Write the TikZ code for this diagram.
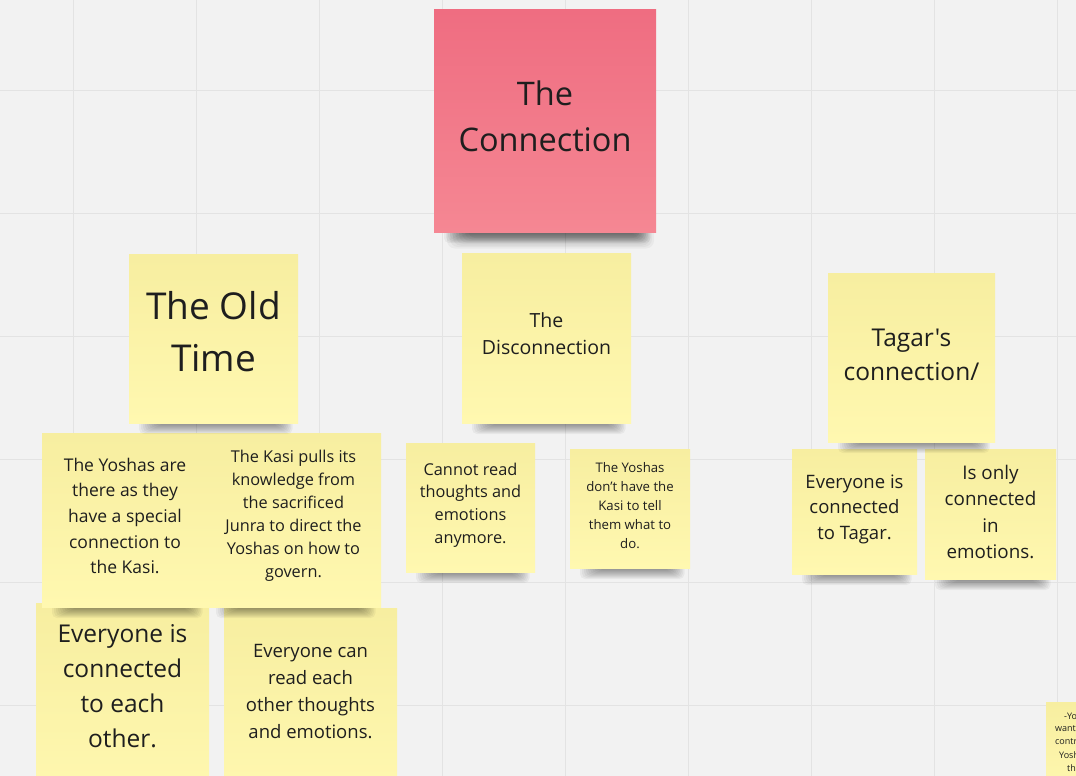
\documentclass[tikz,border=0pt]{standalone}
\usepackage{fontspec}
\newfontfamily\osans{Open Sans}
\definecolor{bgc}{HTML}{F2F2F2}
\definecolor{gridc}{HTML}{E3E3E3}
\definecolor{ytop}{HTML}{F7EEA0}
\definecolor{ybot}{HTML}{FFF8B0}
\definecolor{ptop}{HTML}{EF6D81}
\definecolor{pbot}{HTML}{F58793}
\definecolor{txt}{HTML}{1E1E1E}
\tikzset{
  notebox/.style={rectangle, inner sep=0pt, outer sep=0pt, top color=ytop, middle color=ybot, bottom color=ybot, draw=none},
  pinkbox/.style={top color=ptop, middle color=ptop!55!pbot, bottom color=pbot},
  notetext/.style={align=center, text=txt, inner sep=0pt},
  shadowpiece/.style={fill=black, opacity=0.045, rounded corners=5pt},
}
\newcommand\sticky[9]{%
  \foreach \k in {1,...,10}{\fill[shadowpiece] ({#2+8+2*\k},{#5-20}) rectangle ({#4-4-1.5*\k},{#5+12-\k});}
  \node[notebox, #9, minimum width={#4-#2}, minimum height={#5-#3}] (#1) at ({(#2+#4)/2},{(#3+#5)/2}) {};
  \node[notetext, font=#6] (#1-t) at ({(#2+#4)/2},#7) {#8};
}
\begin{document}
\begin{tikzpicture}[x=1pt,y=-1pt]
\useasboundingbox (0,0) rectangle (1076,776);
\clip (0,0) rectangle (1076,776);
\fill[bgc] (0,0) rectangle (1076,776);
\foreach \gx in {73,196,319,442,565,688,811,934,1057}{\draw[gridc, line width=1pt] (\gx,0) -- (\gx,776);}
\foreach \gy in {90,213,336,459,582,705}{\draw[gridc, line width=1pt] (0,\gy) -- (1076,\gy);}
% bottom row
\sticky{each}{36}{603}{209}{800}{\osans\fontsize{24.5}{35}\selectfont}{686}{Everyone is\\connected\\to each\\other.}{}
\sticky{read}{224}{608}{397}{800}{\osans\fontsize{18.5}{27}\selectfont}{692}{Everyone can\\read each\\other thoughts\\and emotions.}{}
\sticky{part}{1046}{702}{1120}{800}{\osans\fontsize{9}{13}\selectfont}{740}{}{}
\node[notetext, anchor=west, font=\osans\fontsize{9}{13}\selectfont] (p1) at (1064,716) {-Yo};
\node[notetext, anchor=west, font=\osans\fontsize{9}{13}\selectfont] (p2) at (1055,729) {want};
\node[notetext, anchor=west, font=\osans\fontsize{9}{13}\selectfont] (p3) at (1055,742) {contr};
\node[notetext, anchor=west, font=\osans\fontsize{9}{13}\selectfont] (p4) at (1059,755) {Yosh};
\node[notetext, anchor=west, font=\osans\fontsize{9}{13}\selectfont] (p5) at (1067,768) {th};
% middle row
\sticky{yosh}{42}{433}{208}{607}{\osans\fontsize{17.5}{25.7}\selectfont}{516}{The Yoshas are\\there as they\\have a special\\connection to\\the Kasi.}{}
\sticky{kasi}{206}{433}{381}{607}{\osans\fontsize{16.3}{23}\selectfont}{516}{The Kasi pulls its\\knowledge from\\the sacrificed\\Junra to direct the\\Yoshas on how to\\govern.}{}
\sticky{cann}{406}{443}{535}{572}{\osans\fontsize{16.3}{22.8}\selectfont}{505}{Cannot read\\thoughts and\\emotions\\anymore.}{}
\sticky{dont}{570}{449}{690}{568}{\osans\fontsize{13.2}{19}\selectfont}{506}{The Yoshas\\don’t have the\\Kasi to tell\\them what to\\do.}{}
\sticky{tagev}{792}{449}{917}{574}{\osans\fontsize{18.5}{25.5}\selectfont}{509}{Everyone is\\connected\\to Tagar.}{}
\sticky{only}{925}{449}{1056}{579}{\osans\fontsize{18.8}{26.5}\selectfont}{512}{Is only\\connected\\in\\emotions.}{}
% upper row
\sticky{old}{129}{254}{298}{423}{\osans\fontsize{37}{52}\selectfont}{332}{The Old\\Time}{}
\sticky{dis}{462}{253}{631}{423}{\osans\fontsize{19.5}{27}\selectfont}{334}{The\\Disconnection}{}
\sticky{tag}{828}{273}{995}{442}{\osans\fontsize{24.5}{34}\selectfont}{355}{Tagar's\\connection/}{}
% top (wider soft shadow)
\foreach \k in {1,...,8}{\fill[shadowpiece, opacity=0.035, rounded corners=8pt] ({434+10+3*\k},{212}) rectangle ({656-2*\k},{232+18-1.5*\k});}
\sticky{conn}{434}{10}{656}{232}{\osans\fontsize{32.5}{46}\selectfont}{116}{The\\Connection}{pinkbox}
\end{tikzpicture}
\end{document}
